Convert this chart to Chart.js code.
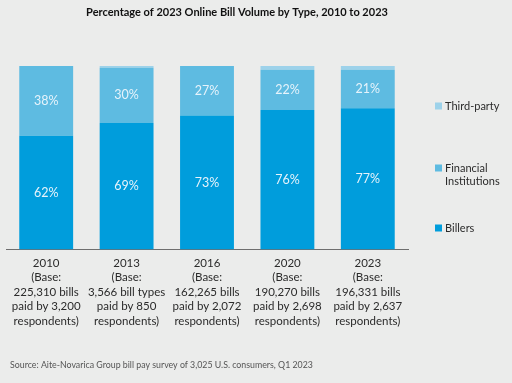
<!DOCTYPE html>
<html>
<head>
<meta charset="utf-8">
<script src="https://cdn.jsdelivr.net/npm/chart.js@4/dist/chart.umd.min.js"></script>
<style>
  html, body { margin: 0; padding: 0; background: #ebeceb; }
  #wrap { width: 512px; height: 383px; position: relative; }
</style>
</head>
<body>
<div id="wrap"><canvas id="c" width="512" height="383"></canvas></div>
<script>
const categories = ['2010', '2013', '2016', '2020', '2023'];
const tickLabels = [
  ['2010', '(Base:', '225,310 bills', 'paid by 3,200', 'respondents)'],
  ['2013', '(Base:', '3,566 bill types', 'paid by 850', 'respondents)'],
  ['2016', '(Base:', '162,265 bills', 'paid by 2,072', 'respondents)'],
  ['2020', '(Base:', '190,270 bills', 'paid by 2,698', 'respondents)'],
  ['2023', '(Base:', '196,331 bills', 'paid by 2,637', 'respondents)']
];
const billers = [62, 69, 73, 76, 77];
const financialInstitutions = [38, 30, 27, 22, 21];
const thirdParty = [0, 1, 0, 2, 2];
const seriesNames = ['Billers', 'Financial Institutions', 'Third-party'];
const legendLabels = [['Third-party'], ['Financial', 'Institutions'], ['Billers']];
const titleText = 'Percentage of 2023 Online Bill Volume by Type, 2010 to 2023';
const sourceText = 'Source: Aite-Novarica Group bill pay survey of 3,025 U.S. consumers, Q1 2023';

const colors = ['#009ddc', '#5ebbe1', '#9dd2ea'];
const FONT = 'Lato, "Open Sans", sans-serif';

const valueLabels = {
  id: 'valueLabels',
  afterDatasetsDraw(chart) {
    const ctx = chart.ctx;
    ctx.save();
    ctx.font = '12.5px ' + FONT;
    ctx.fillStyle = '#e6f3fb';
    ctx.textAlign = 'center';
    ctx.textBaseline = 'middle';
    [0, 1].forEach(di => {
      const meta = chart.getDatasetMeta(di);
      meta.data.forEach((bar, i) => {
        const v = chart.data.datasets[di].data[i];
        const p = bar.getProps(['x', 'y', 'base'], true);
        ctx.fillText(v + '%', p.x, (p.y + p.base) / 2);
      });
    });
    ctx.restore();
  }
};

const extras = {
  id: 'extras',
  afterDraw(chart) {
    const ctx = chart.ctx;
    ctx.save();
    // title
    ctx.font = 'bold 11px ' + FONT;
    ctx.fillStyle = '#111111';
    ctx.textAlign = 'center';
    ctx.textBaseline = 'middle';
    ctx.fillText(titleText, 237, 12);
    // legend
    const items = [
      { color: colors[2], y: 106, lines: legendLabels[0] },
      { color: colors[1], y: 168, lines: legendLabels[1] },
      { color: colors[0], y: 228, lines: legendLabels[2] }
    ];
    ctx.font = '11px ' + FONT;
    ctx.textAlign = 'left';
    items.forEach(it => {
      ctx.fillStyle = it.color;
      ctx.fillRect(435, it.y - 3.5, 7, 7);
      ctx.fillStyle = '#2b2b2b';
      it.lines.forEach((l, k) => ctx.fillText(l, 445, it.y + k * 13));
    });
    // source
    ctx.font = '8.8px ' + FONT;
    ctx.fillStyle = '#555555';
    ctx.fillText(sourceText, 10, 365);
    ctx.restore();
  }
};

new Chart(document.getElementById('c'), {
  type: 'bar',
  data: {
    labels: tickLabels,
    datasets: [
      { label: seriesNames[0], data: billers, backgroundColor: colors[0] },
      { label: seriesNames[1], data: financialInstitutions, backgroundColor: colors[1] },
      { label: seriesNames[2], data: thirdParty, backgroundColor: colors[2] }
    ]
  },
  options: {
    responsive: false,
    animation: false,
    devicePixelRatio: 1,
    layout: { padding: { left: 6, right: 104, top: 66, bottom: 48 } },
    datasets: { bar: { categoryPercentage: 0.67, barPercentage: 1 } },
    plugins: {
      legend: { display: false },
      tooltip: { enabled: false },
      title: { display: false }
    },
    scales: {
      x: {
        stacked: true,
        grid: { display: false, drawTicks: false },
        border: { display: true, color: '#6e6e6e', width: 1 },
        ticks: {
          color: '#2b2b2b',
          font: { family: FONT, size: 11.5, lineHeight: 1.26 },
          padding: 6.5,
          maxRotation: 0,
          autoSkip: false
        }
      },
      y: {
        stacked: true,
        display: false,
        min: 0,
        max: 100
      }
    }
  },
  plugins: [valueLabels, extras]
});
</script>
</body>
</html>
